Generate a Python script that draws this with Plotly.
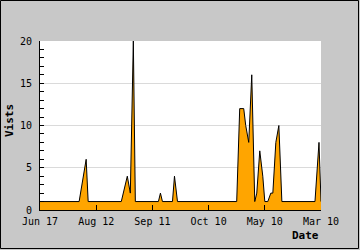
import plotly.graph_objects as go

# Data (x = day index along the axis, y = visits)
day_index = [0, 39, 46, 48, 81, 87, 90, 93, 95, 118, 120, 122, 132, 134, 137,
             196, 199, 203, 205, 208, 211, 214, 216, 219, 222, 224, 227, 230,
             232, 235, 238, 241, 274, 278, 280]
visits = [1, 1, 6, 1, 1, 4, 2, 20, 1, 1, 2, 1, 1, 4, 1,
          1, 12, 12, 10, 8, 16, 1, 2, 7, 4, 1, 1, 2,
          2, 8, 10, 1, 1, 8, 1]

tick_positions = [0, 56, 112, 168, 224, 280]
tick_labels = ["Jun 17", "Aug 12", "Sep 11", "Oct 10", "May 10", "Mar 10"]

font_mono = "DejaVu Sans Mono"
PW, PH = 281, 169

fig = go.Figure()
fig.add_trace(go.Scatter(
    x=day_index, y=visits, mode="lines",
    line=dict(color="#000000", width=1),
    fill="tozeroy", fillcolor="#FFA500",
    hoverinfo="skip",
))

fig.update_layout(
    width=360, height=250,
    margin=dict(l=40, r=39, t=41, b=40),
    paper_bgcolor="#C8C8C8",
    plot_bgcolor="#FFFFFF",
    showlegend=False,
    font=dict(family=font_mono, size=10, color="#000000"),
    xaxis=dict(
        range=[0, 280], tickmode="array", tickvals=tick_positions,
        ticktext=tick_labels, ticks="inside", ticklen=5, tickcolor="#000000",
        showgrid=False, zeroline=False, showline=True, linecolor="#000000",
        linewidth=1, tickfont=dict(family=font_mono, size=10),
        ticklabelstandoff=2, fixedrange=True,
    ),
    yaxis=dict(
        range=[0, 20], tickmode="linear", tick0=0, dtick=5,
        ticks="inside", ticklen=4, tickcolor="#000000",
        minor=dict(dtick=1, ticks="inside", ticklen=4, tickcolor="#000000", showgrid=False),
        showgrid=True, gridcolor="#DADADA", gridwidth=1,
        zeroline=False, showline=True, linecolor="#000000", linewidth=1,
        tickfont=dict(family=font_mono, size=10), ticklabelstandoff=5,
        fixedrange=True,
    ),
    annotations=[
        dict(text="<b>Vists</b>", xref="paper", yref="paper",
             x=-31 / PW, y=(210 - 121) / PH, textangle=-90, showarrow=False,
             xanchor="center", yanchor="middle",
             font=dict(family=font_mono, size=11)),
        dict(text="<b>Date</b>", xref="paper", yref="paper",
             x=265 / PW, y=-26 / PH, showarrow=False,
             xanchor="center", yanchor="middle",
             font=dict(family=font_mono, size=11)),
    ],
    shapes=[
        dict(type="rect", xref="paper", yref="paper",
             x0=-39.5 / PW, x1=318.5 / PW, y0=-38.5 / PH, y1=(169 + 40.5) / PH,
             line=dict(color="#000000", width=1), layer="above"),
    ],
)

fig.write_html("out.html")
